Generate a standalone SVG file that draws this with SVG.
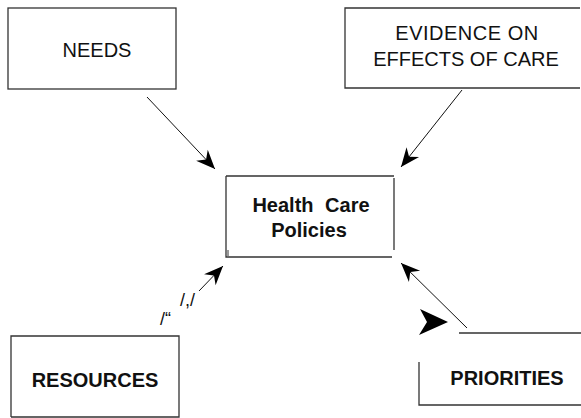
<svg xmlns="http://www.w3.org/2000/svg" width="581" height="418" viewBox="0 0 581 418">
<style>
.box{fill:none;stroke:#333;stroke-width:1.3}
.lbl{font-family:"Liberation Sans",Arial,sans-serif;fill:#111;text-anchor:middle}
.reg{font-size:20px}
.bold{font-size:20px;font-weight:bold}
.con{stroke:#111;stroke-width:1;fill:none}
.mark{font-family:"Liberation Sans",Arial,sans-serif;fill:#111;font-size:18px}
</style>
<defs>
<marker id="ah" markerUnits="userSpaceOnUse" markerWidth="24" markerHeight="20" viewBox="-20 -10 24 20" refX="0" refY="0" orient="auto">
<path d="M0,0 L-19,-8 L-13,0 L-19,8 z" fill="#000"/>
</marker>
</defs>
<rect width="581" height="418" fill="#fff"/>
<g id="needs">
<rect class="box" x="8" y="8" width="168" height="81"/>
<text class="lbl reg" x="97" y="57">NEEDS</text>
</g>
<g id="evidence">
<path class="box" d="M580,8 H345 V88 H580"/>
<text class="lbl reg" x="467" y="40" font-size="21" letter-spacing="0.5">EVIDENCE ON</text>
<text class="lbl reg" x="466" y="66" font-size="21">EFFECTS OF CARE</text>
</g>
<g id="policies">
<path class="box" d="M226,176 H394 M226,176 V257 H392 M394,178 V250"/>
<path d="M228,250 V256" stroke="#333" stroke-width="1"/>
<text class="lbl bold" x="311" y="212" font-size="19" word-spacing="6">Health Care</text>
<text class="lbl bold" x="309" y="237" font-size="19">Policies</text>
</g>
<g id="resources">
<path class="box" d="M11,417 V336 H179 V417 H11"/>
<text class="lbl bold" x="95" y="387">RESOURCES</text>
</g>
<g id="priorities">
<path class="box" d="M459,333 H581 M419,362 V405 H581"/>
<text class="lbl bold" x="507" y="385" font-size="21">PRIORITIES</text>
</g>
<g id="connectors">
<line class="con" x1="147" y1="97" x2="215" y2="169" marker-end="url(#ah)"/>
<line class="con" x1="462" y1="90" x2="401" y2="167" marker-end="url(#ah)"/>
<line class="con" x1="199" y1="291" x2="223" y2="266" marker-end="url(#ah)"/>
<text class="mark" x="160" y="325">/“</text>
<text class="mark" x="180" y="306">/,/</text>
<line class="con" x1="467" y1="328" x2="401" y2="263" marker-end="url(#ah)"/>
<path d="M420,309 L448,322 L419,335 L427,322 z" fill="#000"/>
</g>
</svg>
